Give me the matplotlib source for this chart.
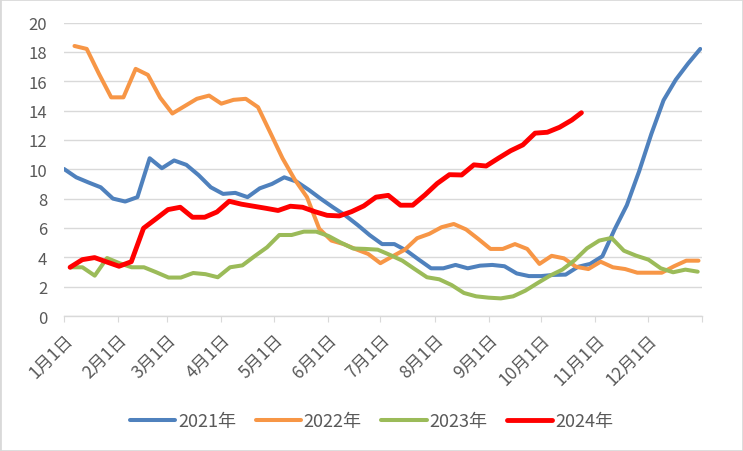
import numpy as np
import matplotlib
matplotlib.use("Agg")
from matplotlib import pyplot as plt
from matplotlib.patches import Rectangle

plt.rcParams['font.family'] = ['Noto Sans CJK SC', 'DejaVu Sans']

# 数据 (按周, x 为一年中的第几天)
month_starts = [0, 31, 59, 90, 120, 151, 181, 212, 243, 273, 304, 334, 365]
month_labels = ["1月1日", "2月1日", "3月1日", "4月1日", "5月1日", "6月1日",
                "7月1日", "8月1日", "9月1日", "10月1日", "11月1日", "12月1日", ""]

v2021 = [10.02, 9.45, 9.1, 8.77, 8.0, 7.8, 8.1, 10.75, 10.07, 10.6, 10.3, 9.6,
         8.77, 8.32, 8.39, 8.1, 8.7, 9.0, 9.45, 9.16, 8.6, 7.98, 7.4, 6.85, 6.2,
         5.5, 4.9, 4.9, 4.45, 3.84, 3.25, 3.25, 3.48, 3.25, 3.43, 3.48, 3.39, 2.9,
         2.72, 2.72, 2.8, 2.82, 3.35, 3.55, 4.07, 5.9, 7.55, 9.85, 12.4, 14.7,
         16.1, 17.2, 18.2]
v2022 = [18.4, 18.2, 16.5, 14.9, 14.9, 16.84, 16.43, 14.88, 13.8, 14.3, 14.8,
         15.02, 14.47, 14.73, 14.8, 14.23, 12.5, 10.75, 9.3, 8.1, 5.95, 5.14, 4.9,
         4.55, 4.23, 3.6, 4.07, 4.52, 5.3, 5.6, 6.05, 6.27, 5.9, 5.25, 4.57, 4.57,
         4.9, 4.57, 3.55, 4.1, 3.93, 3.35, 3.2, 3.7, 3.32, 3.2, 2.95, 2.95, 2.95,
         3.39, 3.77, 3.77]
v2023 = [3.32, 3.32, 2.75, 3.95, 3.6, 3.32, 3.32, 2.98, 2.62, 2.62, 2.93, 2.85,
         2.64, 3.32, 3.45, 4.08, 4.68, 5.52, 5.52, 5.75, 5.75, 5.45, 5.0, 4.6,
         4.57, 4.52, 4.16, 3.77, 3.2, 2.64, 2.5, 2.11, 1.57, 1.34, 1.25, 1.2, 1.34,
         1.73, 2.25, 2.75, 3.16, 3.8, 4.61, 5.14, 5.32, 4.45, 4.11, 3.84, 3.25,
         2.98, 3.16, 3.02]
v2024 = [3.32, 3.84, 3.98, 3.68, 3.39, 3.7, 5.98, 6.61, 7.25, 7.41, 6.73, 6.73,
         7.09, 7.82, 7.62, 7.48, 7.34, 7.19, 7.48, 7.41, 7.11, 6.86, 6.82, 7.11,
         7.5, 8.1, 8.22, 7.55, 7.55, 8.25, 9.03, 9.63, 9.61, 10.3, 10.22, 10.75,
         11.26, 11.66, 12.46, 12.52, 12.86, 13.35, 13.85]

# 每个序列的第一天
start_2021, start_2022, start_2023, start_2024 = 0, 6, 3.5, 3.5
last_day_2024 = 296

d2021 = start_2021 + 7 * np.arange(len(v2021))
d2022 = start_2022 + 7 * np.arange(len(v2022))
d2023 = start_2023 + 7.04 * np.arange(len(v2023))
d2024 = np.append(start_2024 + 7 * np.arange(len(v2024) - 1), last_day_2024)

grey = "#595959"
fig = plt.figure(figsize=(7.43, 4.52), dpi=100)
ax = fig.add_axes([64 / 743, 1 - 317 / 452, 638 / 743, 293.5 / 452])

ax.plot(d2021, v2021, color="#4F81BD", lw=2.9, label="2021年", solid_capstyle="round")
ax.plot(d2022, v2022, color="#F79646", lw=2.9, label="2022年", solid_capstyle="round")
ax.plot(d2023, v2023, color="#9BBB59", lw=2.9, label="2023年", solid_capstyle="round")
ax.plot(d2024, v2024, color="#FF0000", lw=3.5, label="2024年", solid_capstyle="round")

ax.set_xlim(0, 365)
ax.set_ylim(0, 20)
ax.set_yticks(range(0, 21, 2))
ax.grid(axis="y", color="#d9d9d9", lw=1.0)
ax.set_axisbelow(True)
for s in ["top", "right", "left"]:
    ax.spines[s].set_visible(False)
ax.spines["bottom"].set_color("#d9d9d9")
ax.spines["bottom"].set_linewidth(1.0)

ax.set_xticks(month_starts)
ax.set_xticklabels(month_labels, rotation=45, ha="right", va="top",
                   rotation_mode="anchor", fontsize=12.5, color=grey)
ax.tick_params(axis="x", length=4, color="#d9d9d9", pad=6)
ax.tick_params(axis="y", length=0, pad=12, labelsize=12, labelcolor=grey)

fig.legend(loc="center", bbox_to_anchor=(0.5, 30 / 452), ncol=4, frameon=False,
           fontsize=13, labelcolor=grey, handlelength=2.5, handletextpad=0.15,
           columnspacing=1.1)

fig.patches.append(Rectangle((0, 0), 1, 1, transform=fig.transFigure, fill=False,
                             edgecolor="#d9d9d9", lw=2))

fig.savefig("out.png", dpi=100)
